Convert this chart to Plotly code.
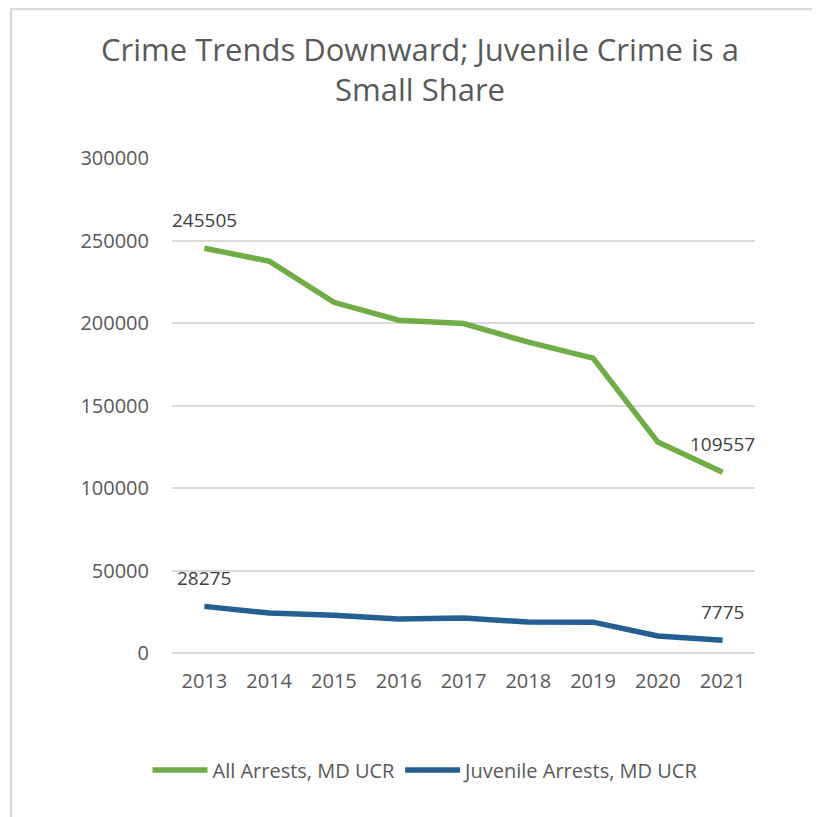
import plotly.graph_objects as go

years = ["2013", "2014", "2015", "2016", "2017", "2018", "2019", "2020", "2021"]
all_arrests = [245505, 237600, 212700, 201800, 199800, 188500, 178800, 127900, 109557]
juvenile_arrests = [28275, 24200, 22900, 20600, 21200, 18800, 18700, 10300, 7775]
title_text = "Crime Trends Downward; Juvenile Crime is a<br>Small Share"
series_names = ["All Arrests, MD UCR", "Juvenile Arrests, MD UCR"]
y_ticks = [0, 50000, 100000, 150000, 200000, 250000, 300000]

# page is offset by the default 8px body margin; figure coords = page coords - 8
OFF = 8
W, H = 820, 817
L, R, T, B = 172 - OFF, W - (755 - OFF), 158 - OFF, H - (653 - OFF)
PW, PH = W - L - R, H - T - B

FONT = "Open Sans, sans-serif"
TXT = "#595959"

fig = go.Figure()
fig.add_trace(go.Scatter(x=years, y=all_arrests, mode="lines", name=series_names[0],
                         line=dict(color="#70ad47", width=5.5)))
fig.add_trace(go.Scatter(x=years, y=juvenile_arrests, mode="lines", name=series_names[1],
                         line=dict(color="#255e91", width=5.5)))

# data labels on first and last points
for series in (all_arrests, juvenile_arrests):
    for i in (0, len(years) - 1):
        fig.add_annotation(x=i, y=series[i], xref="x", yref="y", text=str(series[i]),
                           showarrow=False, yshift=28,
                           font=dict(family=FONT, size=19, color="#404040"))

def px_x(p):
    return (p - OFF - L) / PW

def px_y(p):
    return (H - B - (p - OFF)) / PH

border = dict(color="#d9d9d9", width=2.5)
fig.add_shape(type="line", xref="paper", yref="paper", x0=px_x(11), x1=px_x(11),
              y0=px_y(8), y1=px_y(840), line=border)
fig.add_shape(type="line", xref="paper", yref="paper", x0=px_x(10), x1=px_x(840),
              y0=px_y(9), y1=px_y(9), line=border)

fig.update_layout(
    width=W, height=H,
    margin=dict(l=L, r=R, t=T, b=B),
    paper_bgcolor="white", plot_bgcolor="white",
    font=dict(family=FONT, size=20, color=TXT),
    title=dict(text=title_text, x=(420 - OFF) / W, xanchor="center", xref="container",
               y=1 - 53 / H, yanchor="middle", yref="container",
               font=dict(family=FONT, size=31, color=TXT)),
    showlegend=True,
    legend=dict(orientation="h", xref="container", yref="container",
                x=(426 - OFF) / W, xanchor="center", y=1 - (770 - OFF) / H, yanchor="middle",
                font=dict(family=FONT, size=20, color=TXT), itemwidth=55,
                traceorder="normal"),
    xaxis=dict(type="category", range=[-0.5, len(years) - 0.5], showgrid=False,
               showline=False, zeroline=False, ticks="", ticklabelstandoff=14,
               tickfont=dict(family=FONT, size=20, color=TXT)),
    yaxis=dict(range=[0, 300200], tickvals=y_ticks, ticktext=[str(v) for v in y_ticks],
               showgrid=True, gridcolor="#d9d9d9", gridwidth=1.5,
               zeroline=True, zerolinecolor="#d9d9d9", zerolinewidth=1.5,
               showline=False, ticks="", ticklabelstandoff=22,
               tickfont=dict(family=FONT, size=20, color=TXT)),
)

fig.write_html("out.html")
